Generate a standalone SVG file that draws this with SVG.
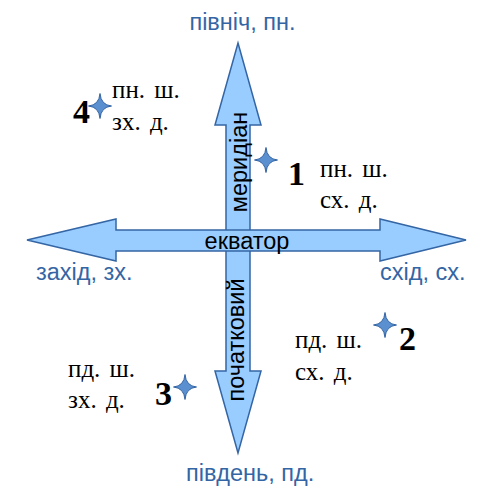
<svg xmlns="http://www.w3.org/2000/svg" width="479" height="487" viewBox="0 0 479 487">
<defs>
<style>
.arrow{fill:#99ccff;stroke:#3465a4;stroke-width:1.5;stroke-linejoin:miter}
.dir{font-family:"Liberation Sans",Arial,sans-serif;font-size:23.5px;fill:#3465a4}
.axis{font-family:"Liberation Sans",Arial,sans-serif;font-size:23.5px;fill:#000}
.coord{font-family:"Liberation Serif","Times New Roman",serif;font-size:25px;word-spacing:3px;fill:#000}
.num{font-family:"Liberation Serif","Times New Roman",serif;font-size:34px;font-weight:bold;fill:#000}
.star{fill:#5a8fd0;stroke:#3465a4;stroke-width:1}
</style>
<path id="starShape" d="M0,-12.5 Q1,-1 11.5,0 Q1,1 0,12.5 Q-1,1 -11.5,0 Q-1,-1 0,-12.5 Z"/>
</defs>
<g id="connectors">
<g id="meridian">
<polygon class="arrow" points="238,43 261,125 250,125 250,371 261,371 238,453 215,371 226,371 226,125 215,125"/>
</g>
<g id="equator">
<polygon class="arrow" points="27,240 116,219 116,230 380,230 380,219 466,240 380,261 380,251 116,251 116,261"/>
</g>
</g>
<g id="axis-labels">
<text class="axis" x="247" y="249" text-anchor="middle">екватор</text>
<text class="axis" transform="translate(246.5,162) rotate(-90)" text-anchor="middle">меридіан</text>
<text class="axis" transform="translate(244,340) rotate(-90)" text-anchor="middle">початковий</text>
</g>
<g id="directions">
<text class="dir" x="242.5" y="30" text-anchor="middle">північ, пн.</text>
<text class="dir" x="36" y="280">захід, зх.</text>
<text class="dir" x="380" y="280">схід, сх.</text>
<text class="dir" x="186" y="481">південь, пд.</text>
</g>
<g id="point1">
<use href="#starShape" class="star" x="266" y="160"/>
<text class="num" x="288" y="185">1</text>
<text class="coord" x="320" y="177">пн. ш.</text>
<text class="coord" x="320" y="208">сх. д.</text>
</g>
<g id="point2">
<use href="#starShape" class="star" x="385" y="325"/>
<text class="num" x="399" y="350">2</text>
<text class="coord" x="295" y="348">пд. ш.</text>
<text class="coord" x="295" y="380">сх. д.</text>
</g>
<g id="point3">
<use href="#starShape" class="star" x="185" y="387"/>
<text class="num" x="155" y="405">3</text>
<text class="coord" x="68" y="377">пд. ш.</text>
<text class="coord" x="68" y="408">зх. д.</text>
</g>
<g id="point4">
<use href="#starShape" class="star" x="100" y="106"/>
<text class="num" x="73" y="123">4</text>
<text class="coord" x="112" y="98">пн. ш.</text>
<text class="coord" x="112" y="130">зх. д.</text>
</g>
</svg>
